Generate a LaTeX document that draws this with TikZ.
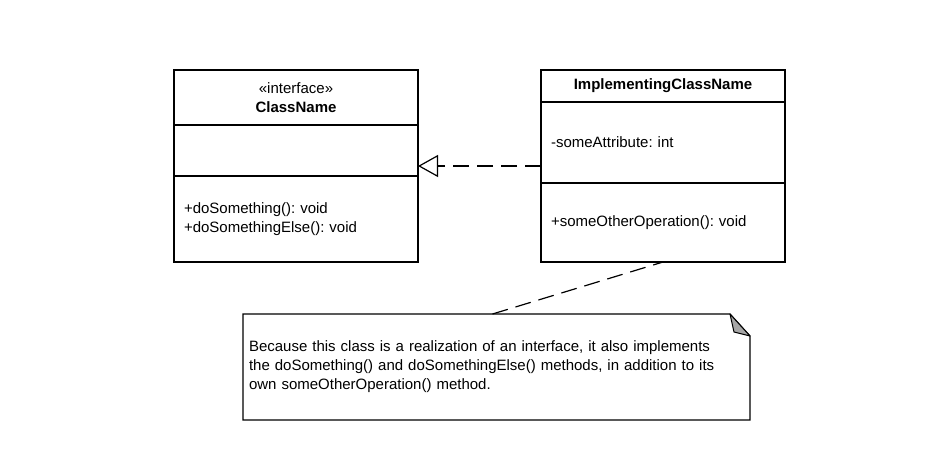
\documentclass[tikz,border=0pt]{standalone}
\usepackage{fontspec}
\setmainfont{Liberation Sans}
\usetikzlibrary{calc, positioning}
\usetikzlibrary{arrows.meta}

\begin{document}
\frenchspacing
\begin{tikzpicture}[x=1pt, y=-1pt, font=\fontsize{15}{19}\selectfont,
  node distance=0pt,
  umlpart/.style={draw, line width=1.2pt, outer sep=0pt, minimum width=\boxw pt,
    inner xsep=10pt, text width=\boxw pt-20pt},
  umltitle/.style={umlpart, align=center},
  umlbody/.style={umlpart, align=left},
  realize/.style={line width=1.2pt, dash pattern=on 16pt off 8pt,
    -{Triangle[open, length=20pt, width=22pt, line width=1.2pt]}},
  notelink/.style={line width=1.2pt, dash pattern=on 16pt off 8pt}]
\def\boxw{244}
\useasboundingbox (0,0) rectangle (944,471);

% interface
\node[umltitle, minimum height=55pt] (ifcTitle) at (296,97.5)
  {\guillemotleft interface\guillemotright\\\textbf{ClassName}};
\node[umlbody, minimum height=51pt, below=of ifcTitle] (ifcAttr) {};
\node[umlbody, minimum height=86pt, below=of ifcAttr] (ifcOps)
  {+doSomething(): void\\+doSomethingElse(): void};

% implementing class
\node[umltitle, minimum height=32pt] (implTitle) at (663,86)
  {\textbf{ImplementingClassName}};
\node[umlbody, minimum height=81pt, below=of implTitle] (implAttr)
  {-someAttribute: int};
\node[umlbody, minimum height=79pt, below=of implAttr] (implOps)
  {+someOtherOperation(): void};

\coordinate (realEnd) at (ifcAttr.east |- 0,166);
\draw[realize] (implAttr.west |- realEnd) -- (realEnd);

% note
\node[minimum width=507pt, minimum height=106pt, inner xsep=6pt,
  text width=495pt, align=left, outer sep=0pt] (note) at (496.5,367)
  {Because this class is a realization of an interface, it also implements\\
   the doSomething() and doSomethingElse() methods, in addition to its\\
   own someOtherOperation() method.};
\draw[line width=1.2pt] (note.north west) -- ([xshift=-20pt]note.north east)
  -- ([yshift=-22pt]note.north east) -- (note.south east) -- (note.south west) -- cycle;
\filldraw[fill=gray!70, line width=1pt, line join=round] ([xshift=-20pt]note.north east)
  -- ([xshift=-16pt, yshift=-18pt]note.north east) -- ([yshift=-22pt]note.north east) -- cycle;
\draw[notelink] ([xshift=-4pt]note.north) -- (implOps.south);
\end{tikzpicture}
\end{document}
